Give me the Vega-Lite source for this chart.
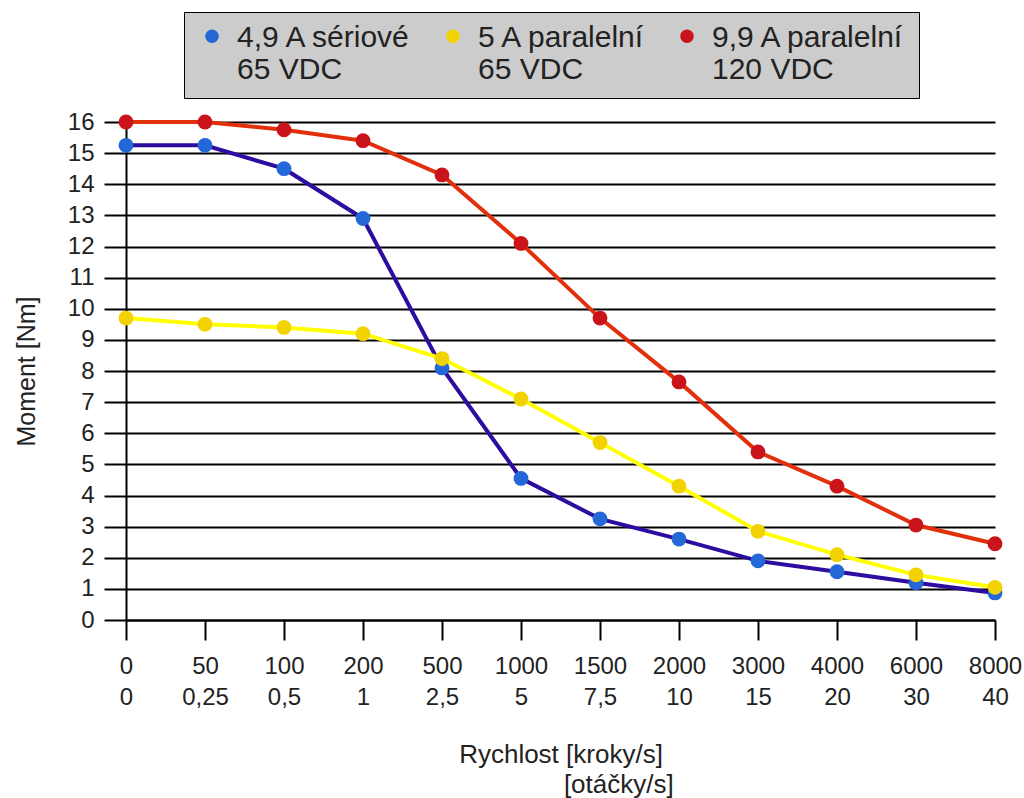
{
  "$schema": "https://vega.github.io/schema/vega-lite/v6.json",
  "autosize": "none",
  "width": 869,
  "height": 498,
  "padding": {"left": 126, "top": 122, "right": 29, "bottom": 178},
  "background": "white",
  "config": {
    "font": "Liberation Sans",
    "view": {"stroke": null},
    "axis": {"labelColor": "#222222", "titleColor": "#222222", "labelFont": "Liberation Sans", "titleFont": "Liberation Sans"}
  },
  "data": {
    "values": [
      {"serie": "4,9 A sériové|65 VDC", "rychlost": "0|0", "moment": 15.25},
      {"serie": "4,9 A sériové|65 VDC", "rychlost": "50|0,25", "moment": 15.25},
      {"serie": "4,9 A sériové|65 VDC", "rychlost": "100|0,5", "moment": 14.5},
      {"serie": "4,9 A sériové|65 VDC", "rychlost": "200|1", "moment": 12.9},
      {"serie": "4,9 A sériové|65 VDC", "rychlost": "500|2,5", "moment": 8.1},
      {"serie": "4,9 A sériové|65 VDC", "rychlost": "1000|5", "moment": 4.55},
      {"serie": "4,9 A sériové|65 VDC", "rychlost": "1500|7,5", "moment": 3.25},
      {"serie": "4,9 A sériové|65 VDC", "rychlost": "2000|10", "moment": 2.6},
      {"serie": "4,9 A sériové|65 VDC", "rychlost": "3000|15", "moment": 1.9},
      {"serie": "4,9 A sériové|65 VDC", "rychlost": "4000|20", "moment": 1.55},
      {"serie": "4,9 A sériové|65 VDC", "rychlost": "6000|30", "moment": 1.2},
      {"serie": "4,9 A sériové|65 VDC", "rychlost": "8000|40", "moment": 0.87},
      {"serie": "5 A paralelní|65 VDC", "rychlost": "0|0", "moment": 9.7},
      {"serie": "5 A paralelní|65 VDC", "rychlost": "50|0,25", "moment": 9.5},
      {"serie": "5 A paralelní|65 VDC", "rychlost": "100|0,5", "moment": 9.4},
      {"serie": "5 A paralelní|65 VDC", "rychlost": "200|1", "moment": 9.2},
      {"serie": "5 A paralelní|65 VDC", "rychlost": "500|2,5", "moment": 8.4},
      {"serie": "5 A paralelní|65 VDC", "rychlost": "1000|5", "moment": 7.1},
      {"serie": "5 A paralelní|65 VDC", "rychlost": "1500|7,5", "moment": 5.7},
      {"serie": "5 A paralelní|65 VDC", "rychlost": "2000|10", "moment": 4.3},
      {"serie": "5 A paralelní|65 VDC", "rychlost": "3000|15", "moment": 2.85},
      {"serie": "5 A paralelní|65 VDC", "rychlost": "4000|20", "moment": 2.1},
      {"serie": "5 A paralelní|65 VDC", "rychlost": "6000|30", "moment": 1.45},
      {"serie": "5 A paralelní|65 VDC", "rychlost": "8000|40", "moment": 1.05},
      {"serie": "9,9 A paralelní|120 VDC", "rychlost": "0|0", "moment": 16.0},
      {"serie": "9,9 A paralelní|120 VDC", "rychlost": "50|0,25", "moment": 16.0},
      {"serie": "9,9 A paralelní|120 VDC", "rychlost": "100|0,5", "moment": 15.75},
      {"serie": "9,9 A paralelní|120 VDC", "rychlost": "200|1", "moment": 15.4},
      {"serie": "9,9 A paralelní|120 VDC", "rychlost": "500|2,5", "moment": 14.3},
      {"serie": "9,9 A paralelní|120 VDC", "rychlost": "1000|5", "moment": 12.1},
      {"serie": "9,9 A paralelní|120 VDC", "rychlost": "1500|7,5", "moment": 9.7},
      {"serie": "9,9 A paralelní|120 VDC", "rychlost": "2000|10", "moment": 7.65},
      {"serie": "9,9 A paralelní|120 VDC", "rychlost": "3000|15", "moment": 5.4},
      {"serie": "9,9 A paralelní|120 VDC", "rychlost": "4000|20", "moment": 4.3},
      {"serie": "9,9 A paralelní|120 VDC", "rychlost": "6000|30", "moment": 3.05},
      {"serie": "9,9 A paralelní|120 VDC", "rychlost": "8000|40", "moment": 2.45}
    ]
  },
  "encoding": {
    "x": {
      "field": "rychlost",
      "type": "ordinal",
      "sort": ["0|0", "50|0,25", "100|0,5", "200|1", "500|2,5", "1000|5", "1500|7,5", "2000|10", "3000|15", "4000|20", "6000|30", "8000|40"],
      "scale": {"type": "point", "padding": 0},
      "axis": {
        "labelAngle": 0,
        "labelExpr": "split(datum.label, '|')",
        "labelFontSize": 24,
        "labelLineHeight": 31,
        "labelPadding": 14,
        "tickSize": 20,
        "tickColor": "black",
        "tickWidth": 2,
        "domainColor": "black",
        "domainWidth": 2,
        "grid": false,
        "title": ["Rychlost [kroky/s]", "\u200b\u00a0\u00a0\u00a0\u00a0\u00a0\u00a0\u00a0\u00a0\u00a0\u00a0\u00a0\u00a0\u00a0\u00a0\u00a0\u00a0[otáčky/s]"],
        "titleFontSize": 26,
        "titleFontWeight": "normal",
        "titleLineHeight": 30,
        "titlePadding": 32
      }
    },
    "y": {
      "field": "moment",
      "type": "quantitative",
      "scale": {"domain": [0, 16], "nice": false},
      "axis": {
        "values": [0, 1, 2, 3, 4, 5, 6, 7, 8, 9, 10, 11, 12, 13, 14, 15, 16],
        "labelFontSize": 24,
        "labelPadding": 10,
        "tickSize": 22,
        "tickColor": "black",
        "tickWidth": 2,
        "domainColor": "black",
        "domainWidth": 2,
        "grid": true,
        "gridColor": "black",
        "gridWidth": 2,
        "gridOpacity": 1,
        "title": "Moment [Nm]",
        "titleFontSize": 25,
        "titleFontWeight": "normal",
        "titlePadding": 28
      }
    }
  },
  "layer": [
    {
      "mark": {"type": "line", "strokeWidth": 4},
      "encoding": {
        "color": {
          "field": "serie",
          "type": "nominal",
          "scale": {"domain": ["4,9 A sériové|65 VDC", "5 A paralelní|65 VDC", "9,9 A paralelní|120 VDC"], "range": ["#2d0ca0", "#ffff00", "#e3300c"]},
          "legend": null
        }
      }
    },
    {
      "mark": {"type": "point", "filled": true, "shape": "circle", "size": 220, "opacity": 1},
      "encoding": {
        "color": {
          "field": "serie",
          "type": "nominal",
          "scale": {"domain": ["4,9 A sériové|65 VDC", "5 A paralelní|65 VDC", "9,9 A paralelní|120 VDC"], "range": ["#2468d8", "#f2d200", "#c8141a"]},
          "legend": {
            "title": "\u200b",
            "titleFontSize": 2,
            "titlePadding": 5,
            "orient": "none",
            "legendX": 58,
            "legendY": -110,
            "direction": "horizontal",
            "columns": 3,
            "gridAlign": "each",
            "columnPadding": 25,
            "fillColor": "#cccccc",
            "strokeColor": "black",
            "padding": 13,
            "labelExpr": "split(datum.label, '|')",
            "labelFontSize": 30,
            "labelLineHeight": 32,
            "labelColor": "#222222",
            "labelLimit": 400,
            "labelBaseline": "alphabetic",
            "labelOffset": 10,
            "symbolType": "M -1,-1.6 A 1,1 0 1,0 1,-1.6 A 1,1 0 1,0 -1,-1.6 Z",
            "symbolSize": 180,
            "symbolOpacity": 1
          }
        }
      }
    }
  ],
  "resolve": {"scale": {"color": "independent"}}
}
